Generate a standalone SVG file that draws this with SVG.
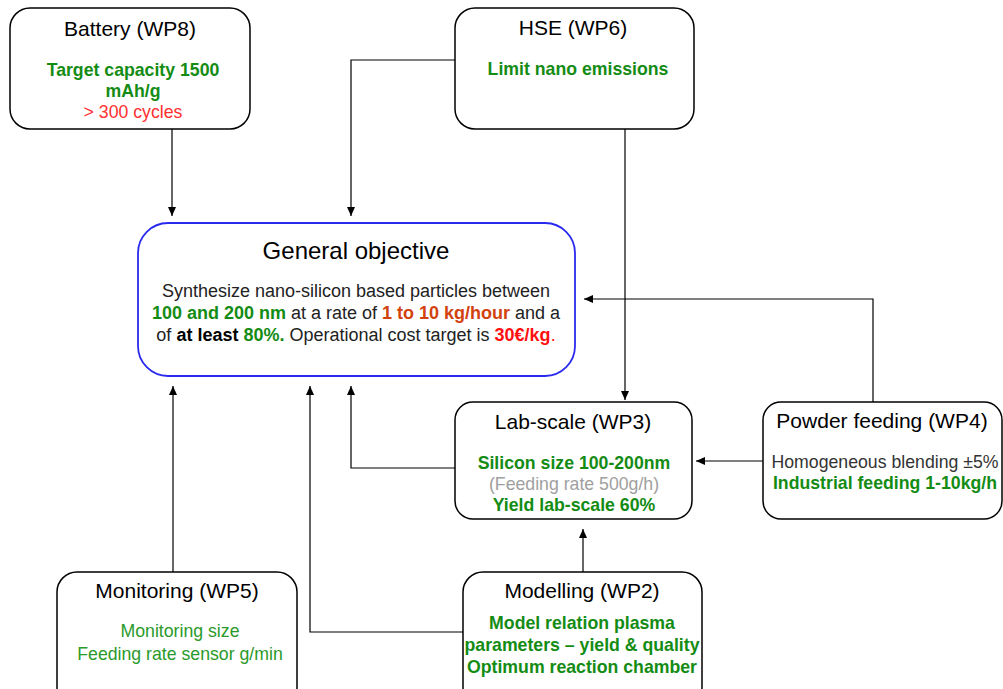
<svg xmlns="http://www.w3.org/2000/svg" width="1003" height="689" viewBox="0 0 1003 689">
<defs>
<marker id="arr" markerUnits="userSpaceOnUse" markerWidth="10" markerHeight="10" refX="9" refY="4" orient="auto" viewBox="0 0 10 8"><path d="M0,0 L9,4 L0,8 z" fill="#000"/></marker>
</defs>
<style>
text{font-family:"Liberation Sans",Arial,sans-serif;}
.box{fill:#fff;stroke:#000;stroke-width:1.5;}
.gbox{fill:#fff;stroke:#2a2aee;stroke-width:1.8;}
.t{font-size:21px;fill:#000;text-anchor:middle;}
.gt{font-size:24px;fill:#000;text-anchor:middle;}
.gb{font-size:17.7px;font-weight:bold;fill:#148c14;text-anchor:middle;}
.g{font-size:17.7px;fill:#2a9a2a;text-anchor:middle;}
.r{font-size:17.7px;fill:#ff3030;text-anchor:middle;}
.gr{font-size:17.7px;fill:#a0a0a0;text-anchor:middle;}
.k{font-size:17.7px;fill:#333;text-anchor:middle;}
.body{font-size:18px;fill:#222;text-anchor:middle;}
.bgreen{font-weight:bold;fill:#148c14;}
.borange{font-weight:bold;fill:#d2420e;}
.bred{font-weight:bold;fill:#ff1010;}
.bblack{font-weight:bold;fill:#000;}
.conn path{fill:none;stroke:#000;stroke-width:1.2;marker-end:url(#arr);}
</style>
<g id="connectors" class="conn">
<path d="M172,129 V216"/>
<path d="M455,60 H351 V216"/>
<path d="M625,129 V400"/>
<path d="M873,402 V299 H584"/>
<path d="M763,461 H696"/>
<path d="M455,468 H351 V386"/>
<path d="M583,572 V529"/>
<path d="M463,632 H310 V386"/>
<path d="M173,572 V386"/>
</g>
<g id="battery">
<rect class="box" x="10" y="8" width="240" height="121" rx="20"/>
<text class="t" x="130" y="36">Battery (WP8)</text>
<text class="gb" x="133" y="76">Target capacity 1500</text>
<text class="gb" x="133" y="97">mAh/g</text>
<text class="r" x="133" y="118">&gt; 300 cycles</text>
</g>
<g id="hse">
<rect class="box" x="455" y="8" width="239" height="121" rx="20"/>
<text class="t" x="573" y="35">HSE (WP6)</text>
<text class="gb" x="578" y="75">Limit nano emissions</text>
</g>
<g id="general">
<rect class="gbox" x="138" y="223" width="437" height="153" rx="30"/>
<text class="gt" x="356" y="259">General objective</text>
<text class="body" x="356" y="297">Synthesize nano-silicon based particles between</text>
<text class="body" x="356" y="319"><tspan class="bgreen">100 and 200 nm</tspan> at a rate of <tspan class="borange">1 to 10 kg/hour</tspan> and a</text>
<text class="body" x="356" y="341">of <tspan class="bblack">at least</tspan> <tspan class="bgreen">80%.</tspan> Operational cost target is <tspan class="bred">30€/kg</tspan><tspan fill="#ff1010">.</tspan></text>
</g>
<g id="labscale">
<rect class="box" x="455" y="402" width="237" height="117" rx="18"/>
<text class="t" x="573" y="429">Lab-scale (WP3)</text>
<text class="gb" x="574" y="469">Silicon size 100-200nm</text>
<text class="gr" x="574" y="490">(Feeding rate 500g/h)</text>
<text class="gb" x="574" y="511">Yield lab-scale 60%</text>
</g>
<g id="powder">
<rect class="box" x="763" y="402" width="239" height="117" rx="18"/>
<text class="t" x="882" y="428">Powder feeding (WP4)</text>
<text class="k" x="885" y="468">Homogeneous blending ±5%</text>
<text class="gb" x="885" y="489">Industrial feeding 1-10kg/h</text>
</g>
<g id="monitoring">
<rect class="box" x="57" y="572" width="240" height="135" rx="20"/>
<text class="t" x="177" y="598">Monitoring (WP5)</text>
<text class="g" x="180" y="637">Monitoring size</text>
<text class="g" x="180" y="660">Feeding rate sensor g/min</text>
</g>
<g id="modelling">
<rect class="box" x="463" y="572" width="239" height="135" rx="20"/>
<text class="t" x="582" y="598">Modelling (WP2)</text>
<text class="gb" x="582" y="629">Model relation plasma</text>
<text class="gb" x="582" y="651">parameters – yield &amp; quality</text>
<text class="gb" x="582" y="673">Optimum reaction chamber</text>
</g>
</svg>
